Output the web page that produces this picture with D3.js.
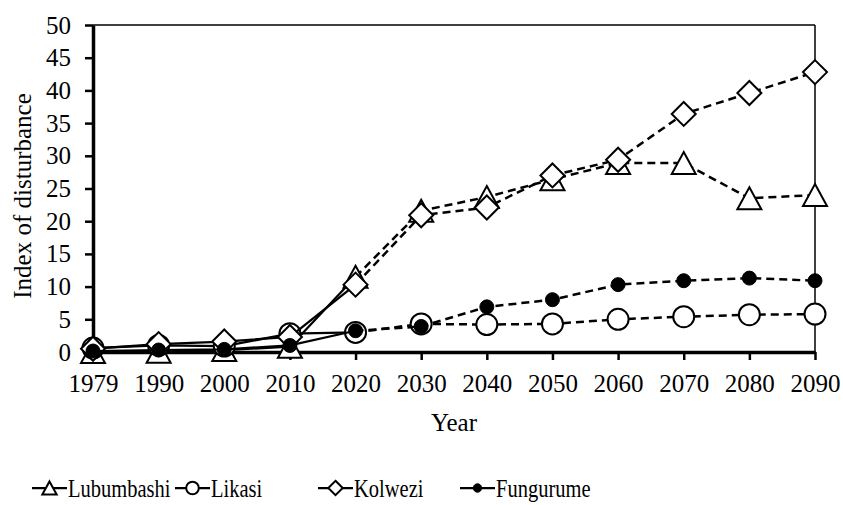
<!DOCTYPE html>
<html><head><meta charset="utf-8">
<script src="https://cdn.jsdelivr.net/npm/d3@7"></script>
<style>body{margin:0;background:#fff}text{font-family:"Liberation Serif","Times New Roman",serif;fill:#000}</style>
</head><body><svg id="c" width="843" height="505"></svg>
<script>
const years = ["1979","1990","2000","2010","2020","2030","2040","2050","2060","2070","2080","2090"];
const yTicks = [0,5,10,15,20,25,30,35,40,45,50];
const lubumbashi = [0, 0.05, 0.3, 0.8, 11.5, 21.6, 23.7, 26.4, 28.9, 28.9, 23.5, 24.0];
const likasi     = [0.6, 1.0, 0.9, 2.8, 3.0, 4.3, 4.2, 4.3, 5.0, 5.4, 5.7, 5.8];
const kolwezi    = [0.5, 1.2, 1.6, 2.3, 10.3, 20.9, 22.1, 27.0, 29.4, 36.4, 39.6, 42.8];
const fungurume  = [0.15, 0.3, 0.4, 1.0, 3.25, 3.9, 6.9, 8.0, 10.3, 10.9, 11.3, 10.9];
const seriesNames = ["Lubumbashi","Likasi","Kolwezi","Fungurume"];
const seriesData = [lubumbashi, likasi, kolwezi, fungurume];
const markers = ["triangle","circle","diamond","dot"];
const splitIndex = 4; // observed to 2020, projected after

const svg = d3.select("#c");
const L = 93, R = 815, T = 25, B = 352;
const x = d3.scalePoint().domain(years).range([L, R]).padding(0);
const y = d3.scaleLinear().domain([0, 50]).range([B, T]);
const FS = 25;
const FF = "Liberation Serif";

svg.append("line").attr("x1", L).attr("x2", R).attr("y1", T).attr("y2", T).attr("stroke","#000").attr("stroke-width",1.5);
svg.append("line").attr("x1", R).attr("x2", R).attr("y1", T).attr("y2", B).attr("stroke","#000").attr("stroke-width",1.5);

const gy = svg.append("g").attr("transform", `translate(${L},0)`)
  .call(d3.axisLeft(y).tickValues(yTicks).tickSize(8).tickPadding(14).tickSizeOuter(0));
const gx = svg.append("g").attr("transform", `translate(0,${B})`)
  .call(d3.axisBottom(x).tickSize(8).tickPadding(14).tickSizeOuter(0));
[gy, gx].forEach(g => {
  g.attr("font-family", FF).attr("font-size", FS);
  g.select(".domain").attr("stroke","#000").attr("stroke-width",3.5);
  g.selectAll(".tick line").attr("stroke","#000").attr("stroke-width",2.5);
  g.selectAll(".tick text").attr("font-size", FS).attr("font-family", FF).attr("fill","#000");
});

svg.append("text").attr("x", (L+R)/2).attr("y", 431).attr("text-anchor","middle").attr("font-family", FF).attr("font-size", FS).text("Year");
svg.append("text").attr("transform", `translate(31,196) rotate(-90)`).attr("text-anchor","middle").attr("font-family", FF).attr("font-size", FS).text("Index of disturbance");

function drawMarker(g, type, cx, cy, s) {
  if (type === "circle") {
    g.append("circle").attr("cx",cx).attr("cy",cy).attr("r",10.5*s).attr("fill","#fff").attr("stroke","#000").attr("stroke-width",2);
  } else if (type === "dot") {
    g.append("circle").attr("cx",cx).attr("cy",cy).attr("r",7*s).attr("fill","#000").attr("stroke","#000").attr("stroke-width",1);
  } else if (type === "diamond") {
    const h = 12*s;
    g.append("path").attr("d",`M${cx},${cy-h}L${cx+h},${cy}L${cx},${cy+h}L${cx-h},${cy}Z`).attr("fill","#fff").attr("stroke","#000").attr("stroke-width",2);
  } else if (type === "triangle") {
    const w = 12*s, h = 11*s;
    g.append("path").attr("d",`M${cx},${cy-h}L${cx+w},${cy+h}L${cx-w},${cy+h}Z`).attr("fill","#fff").attr("stroke","#000").attr("stroke-width",2);
  }
}

const lineGen = d3.line().x(d => x(d[0])).y(d => y(d[1]));
seriesData.forEach((vals, si) => {
  const g = svg.append("g");
  const pts = years.map((yr, i) => [yr, vals[i]]);
  g.append("path").attr("d", lineGen(pts.slice(0, splitIndex+1))).attr("fill","none").attr("stroke","#000").attr("stroke-width",2.25);
  g.append("path").attr("d", lineGen(pts.slice(splitIndex))).attr("fill","none").attr("stroke","#000").attr("stroke-width",2.5).attr("stroke-dasharray","8,5");
  pts.forEach(p => drawMarker(g, markers[si], x(p[0]), y(p[1]), 1));
});

const legX = [32, 175, 318, 460];
const legY = 488;
seriesNames.forEach((name, i) => {
  const g = svg.append("g");
  const tx = legX[i] + 36;
  g.append("line").attr("x1", legX[i]).attr("x2", legX[i]+35).attr("y1", legY).attr("y2", legY).attr("stroke","#000").attr("stroke-width",2.25);
  drawMarker(g, markers[i], legX[i]+17.5, legY, 0.6);
  g.append("text").attr("x", tx).attr("y", legY).attr("dy","0.35em").attr("font-family", FF).attr("font-size", 25)
    .attr("transform", `translate(${tx},0) scale(0.82,1) translate(${-tx},0)`).text(name);
});
</script></body></html>
